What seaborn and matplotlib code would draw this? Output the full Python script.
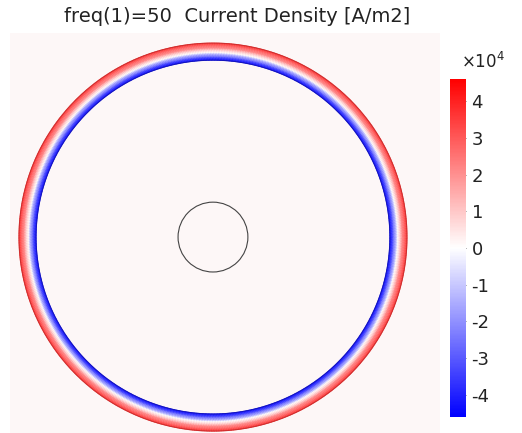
import numpy as np
import matplotlib
matplotlib.use("Agg")
import matplotlib.pyplot as plt
from matplotlib.patches import Circle
import seaborn as sns

# Radial profile of the current density across the conductor tube wall
# (radius normalised to the outer radius, J in units of 1e4 A/m2)
ring_radius = [0.912, 0.932, 0.952, 0.975, 1.0]
ring_density = [-4.3, -2.5, 0.0, 2.0, 3.6]
inner_circle_radius = 0.18

cbar_ticks = [-4, -3, -2, -1, 0, 1, 2, 3, 4]
cbar_limit = 4.6
title = "freq(1)=50  Current Density [A/m2]"

sns.set_theme(style="white")
plt.rcParams["font.family"] = ["DejaVu Sans"]
plt.rcParams["axes.unicode_minus"] = False

cmap = sns.blend_palette(["#0000ff", "#ffffff", "#ff0000"], as_cmap=True)

fig = plt.figure(figsize=(5.22, 4.33), dpi=100)
fig.patch.set_facecolor("white")

W, H = 522, 433
ax = fig.add_axes([10 / W, 0, 430 / W, 400 / H])
ax.set_facecolor("#fdf7f7")

theta = np.linspace(0, 2 * np.pi, 721)
R, T = np.meshgrid(np.array(ring_radius), theta)
X, Y = R * np.cos(T), R * np.sin(T)
C = np.tile(np.array(ring_density), (len(theta), 1))
mesh = ax.pcolormesh(X, Y, C, cmap=cmap, vmin=-cbar_limit, vmax=cbar_limit,
                     shading="gouraud")

# soft rims on the tube boundaries
ax.add_patch(Circle((0, 0), ring_radius[-1], fill=False,
                    edgecolor="#a02020", linewidth=0.8, alpha=0.5))
ax.add_patch(Circle((0, 0), ring_radius[0], fill=False,
                    edgecolor="#101080", linewidth=0.8, alpha=0.5))

ax.add_patch(Circle((0, 0), inner_circle_radius, fill=False,
                    edgecolor="#444444", linewidth=0.8))

ax.set_xlim(-1.046, 1.170)
ax.set_ylim(-1.010, 1.052)
ax.set_aspect("equal")
ax.set_xticks([])
ax.set_yticks([])
for s in ax.spines.values():
    s.set_visible(False)

fig.text(237 / W, 1 - 17 / H, title, ha="center", va="center",
         fontsize=14, color="#222222")

cax = fig.add_axes([450 / W, (H - 417) / H, 16 / W, 338 / H])
cb = fig.colorbar(mesh, cax=cax, ticks=cbar_ticks)
cb.outline.set_visible(False)
cax.tick_params(axis="y", direction="in", length=3, width=0.6,
                colors="#555555", labelcolor="#222222", labelsize=13, pad=4)
cax.set_yticklabels([str(t) for t in cbar_ticks])
fig.text(483 / W, 1 - 62 / H, r"$\times10^{4}$", ha="center", va="center",
         fontsize=12, color="#222222")

fig.savefig("out.png", dpi=100)
